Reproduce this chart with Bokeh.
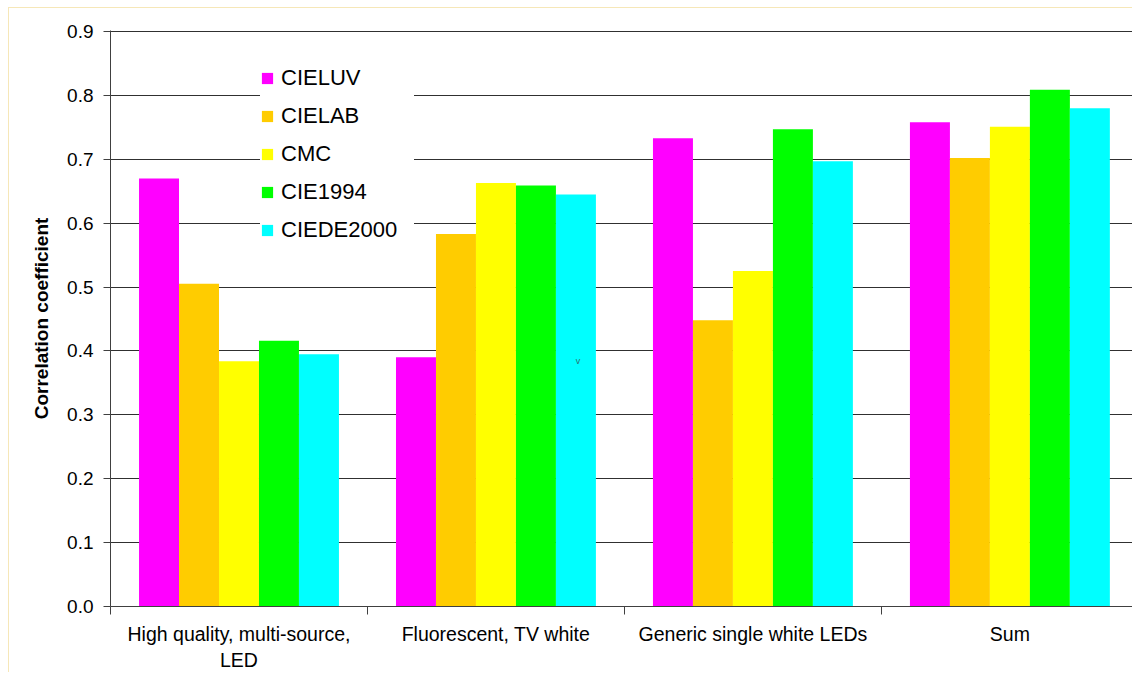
from bokeh.plotting import figure
from bokeh.models import Range1d, FixedTicker, Legend, LegendItem, Label, ColumnDataSource
from bokeh.embed import file_html
from bokeh.resources import INLINE

categories = ["High quality, multi-source,\nLED", "Fluorescent, TV white",
              "Generic single white LEDs", "Sum"]
series = ["CIELUV", "CIELAB", "CMC", "CIE1994", "CIEDE2000"]
colors = ["#FF00FF", "#FFCC00", "#FFFF00", "#00FF00", "#00FFFF"]
cieluv = [0.670, 0.390, 0.733, 0.758]
cielab = [0.505, 0.583, 0.448, 0.702]
cmc = [0.384, 0.663, 0.525, 0.751]
cie1994 = [0.416, 0.659, 0.747, 0.809]
ciede2000 = [0.395, 0.645, 0.697, 0.780]
values = [cieluv, cielab, cmc, cie1994, ciede2000]
y_ticks = [0.0, 0.1, 0.2, 0.3, 0.4, 0.5, 0.6, 0.7, 0.8, 0.9]

FONT = "Liberation Sans"
bar_w = 0.1556
group_off = 0.111

p = figure(width=1124, height=665, output_backend="svg", toolbar_location=None,
           x_range=Range1d(0, 3.981), y_range=Range1d(0, 0.9016),
           min_border_left=101, min_border_right=0, min_border_top=22,
           min_border_bottom=67)
p.outline_line_color = None
p.background_fill_color = "white"
p.border_fill_color = "white"
p.styles = {"margin-left": "8px", "margin-top": "7px",
            "border-left": "1px solid #F6E7B8", "border-top": "1px solid #F6E7B8"}

items = []
for j, (name, col, vals) in enumerate(zip(series, colors, values)):
    xs = [i + group_off + bar_w * j + bar_w / 2 for i in range(len(categories))]
    src = ColumnDataSource(dict(x=xs, top=vals))
    r = p.vbar(x="x", top="top", width=bar_w, bottom=0, source=src,
               fill_color=col, line_color=None)
    items.append(LegendItem(label=name, renderers=[r]))

legend = Legend(items=items, location=(150, 363), margin=0, padding=0,
                spacing=12, label_height=26, label_width=133,
                glyph_width=14, glyph_height=14, label_standoff=7,
                label_text_font=FONT, label_text_font_size="22px",
                label_text_color="black",
                border_line_color=None, background_fill_color="white",
                background_fill_alpha=1.0)
p.add_layout(legend, "center")

# y axis
p.yaxis.ticker = FixedTicker(ticks=y_ticks, minor_ticks=[])
p.yaxis.major_label_overrides = {t: f"{t:.1f}" for t in y_ticks}
p.yaxis.major_label_text_font = FONT
p.yaxis.major_label_text_font_size = "19px"
p.yaxis.major_label_text_color = "black"
p.yaxis.major_tick_out = 7
p.yaxis.major_tick_in = 0
p.yaxis.major_tick_line_color = "#404040"
p.yaxis.axis_line_color = "#404040"
p.yaxis.major_label_standoff = 10
p.yaxis.axis_label = "Correlation coefficient"
p.yaxis.axis_label_text_font = FONT
p.yaxis.axis_label_text_font_style = "bold"
p.yaxis.axis_label_text_font_size = "19px"
p.yaxis.axis_label_text_color = "black"
p.yaxis.axis_label_standoff = 12

# x axis
centers = [i + 0.5 for i in range(len(categories))]
p.xaxis.ticker = FixedTicker(ticks=centers, minor_ticks=list(range(len(categories) + 1)))
p.xaxis.major_label_overrides = {c: lab for c, lab in zip(centers, categories)}
p.xaxis.major_label_text_font = FONT
p.xaxis.major_label_text_font_size = "19.5px"
p.xaxis.major_label_text_color = "black"
p.xaxis.major_tick_line_color = None
p.xaxis.major_tick_out = 0
p.xaxis.major_tick_in = 0
p.xaxis.minor_tick_out = 8
p.xaxis.minor_tick_in = 0
p.xaxis.minor_tick_line_color = "#404040"
p.xaxis.axis_line_color = "#404040"
p.xaxis.major_label_standoff = 8

p.xgrid.grid_line_color = None
p.ygrid.ticker = FixedTicker(ticks=y_ticks[1:])
p.ygrid.grid_line_color = "#303030"
p.ygrid.grid_line_width = 1

p.add_layout(Label(x=1.819, y=0.376, text="v", text_font=FONT,
                   text_font_size="9px", text_color="#2F6F6F", text_align="center"))

open("out.html", "w").write(file_html(p, INLINE))
